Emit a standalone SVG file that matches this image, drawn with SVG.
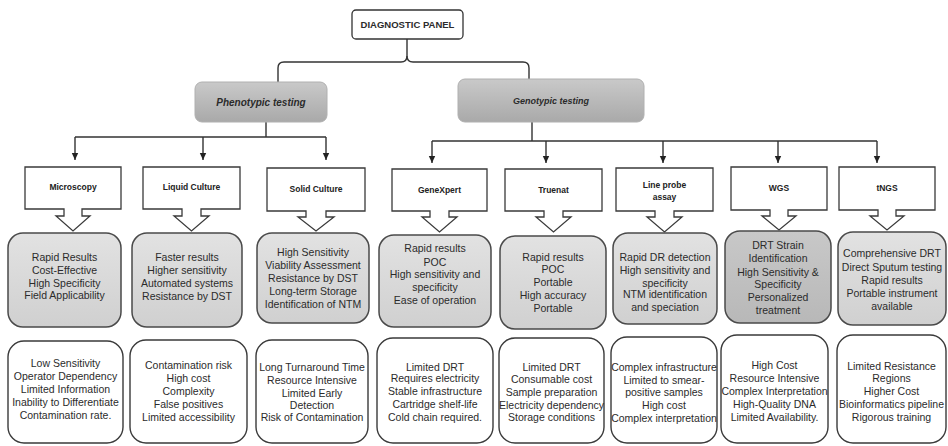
<svg xmlns="http://www.w3.org/2000/svg" width="948" height="446" viewBox="0 0 948 446">
<defs>
<linearGradient id="gcat" x1="0" y1="0" x2="0" y2="1"><stop offset="0" stop-color="#c9c9c9"/><stop offset="1" stop-color="#a9a9a9"/></linearGradient>
<linearGradient id="gpro" x1="0" y1="0" x2="0" y2="1"><stop offset="0" stop-color="#e2e2e2"/><stop offset="1" stop-color="#d0d0d0"/></linearGradient>
<linearGradient id="gwgs" x1="0" y1="0" x2="0" y2="1"><stop offset="0" stop-color="#c8c8c8"/><stop offset="1" stop-color="#b8b8b8"/></linearGradient>
<marker id="ah" markerWidth="8" markerHeight="8" refX="7" refY="4" orient="auto" markerUnits="userSpaceOnUse"><path d="M0,0.8 L7,4 L0,7.2 Z" fill="#222"/></marker>
<style>
.ln{fill:none;stroke:#333;stroke-width:1.4}
.hdr{fill:#fff;stroke:#3a3a3a;stroke-width:1.3}
.pro{fill:url(#gpro);stroke:#4a4a4a;stroke-width:1.5}
.wgs{fill:url(#gwgs);stroke:#4a4a4a;stroke-width:1.5}
.con{fill:#fff;stroke:#3a3a3a;stroke-width:1.4}
.cat{fill:url(#gcat);stroke:#b0b0b0;stroke-width:1}
.t{font-family:"Liberation Sans",Arial,sans-serif;font-size:10.5px;fill:#2b2b2b;text-anchor:middle}
.h{font-weight:bold;font-size:8.5px;fill:#222}
</style>
</defs>

<g id="connectors">
<path class="ln" d="M407,39 V56 Q407,62 401,62 H284 Q278,62 278,68 V82"/>
<path class="ln" d="M407,56 Q407,62 413,62 H523 Q529,62 529,68 V79"/>
<path class="ln" d="M266,122 V137 M75,137 H326"/>
<path class="ln" d="M75,137 V160" marker-end="url(#ah)"/>
<path class="ln" d="M203,137 V160" marker-end="url(#ah)"/>
<path class="ln" d="M326,137 V160" marker-end="url(#ah)"/>
<path class="ln" d="M532,122 V141 M432,141 H877"/>
<path class="ln" d="M432,141 V163" marker-end="url(#ah)"/>
<path class="ln" d="M546,141 V163" marker-end="url(#ah)"/>
<path class="ln" d="M663,141 V163" marker-end="url(#ah)"/>
<path class="ln" d="M778,141 V163" marker-end="url(#ah)"/>
<path class="ln" d="M877,141 V163" marker-end="url(#ah)"/>
</g>

<g id="diagnostic-panel">
<rect x="352" y="10" width="111" height="29" rx="4" fill="#fff" stroke="#333" stroke-width="1.3"/>
<text class="t" x="407.5" y="28" style="font-weight:bold;font-size:9.5px">DIAGNOSTIC PANEL</text>
</g>

<g id="phenotypic">
<rect class="cat" x="195" y="82" width="132" height="40" rx="7"/>
<text class="t" x="261" y="106" style="font-weight:bold;font-style:italic;font-size:10px">Phenotypic testing</text>
</g>
<g id="genotypic">
<rect class="cat" x="458" y="79" width="186" height="43" rx="7"/>
<text class="t" x="551" y="104" style="font-style:italic;font-weight:bold;font-size:9px">Genotypic testing</text>
</g>

<!-- Microscopy -->
<g id="microscopy">
<path class="hdr" d="M25,167 H121 V209 H82 V216 H90 L73,231 L56,216 H64 V209 H25 Z"/>
<text class="t h" x="73" y="190">Microscopy</text>
</g>
<g id="microscopy-pros">
<rect class="pro" x="8" y="233" width="113" height="94" rx="15"/>
<text class="t" x="64.5" y="261">Rapid Results</text>
<text class="t" x="64.5" y="274">Cost-Effective</text>
<text class="t" x="64.5" y="287">High Specificity</text>
<text class="t" x="64.5" y="299">Field Applicability</text>
</g>
<g id="microscopy-cons">
<rect class="con" x="8" y="341" width="115" height="102" rx="16"/>
<text class="t" x="65.5" y="367">Low Sensitivity</text>
<text class="t" x="65.5" y="380">Operator Dependency</text>
<text class="t" x="65.5" y="393">Limited Information</text>
<text class="t" x="65.5" y="406">Inability to Differentiate</text>
<text class="t" x="65.5" y="419">Contamination rate.</text>
</g>

<!-- Liquid Culture -->
<g id="liquid-culture">
<path class="hdr" d="M143,167 H240 V209 H201 V216 H209 L191.5,231 L174,216 H182 V209 H143 Z"/>
<text class="t h" x="191.5" y="190">Liquid Culture</text>
</g>
<g id="liquid-culture-pros">
<rect class="pro" x="132" y="233" width="110" height="94" rx="15"/>
<text class="t" x="187" y="261">Faster results</text>
<text class="t" x="187" y="274">Higher sensitivity</text>
<text class="t" x="187" y="287">Automated systems</text>
<text class="t" x="187" y="300">Resistance by DST</text>
</g>
<g id="liquid-culture-cons">
<rect class="con" x="130" y="340" width="117" height="103" rx="16"/>
<text class="t" x="188.5" y="369">Contamination risk</text>
<text class="t" x="188.5" y="382">High cost</text>
<text class="t" x="188.5" y="395">Complexity</text>
<text class="t" x="188.5" y="408">False positives</text>
<text class="t" x="188.5" y="421">Limited accessibility</text>
</g>

<!-- Solid Culture -->
<g id="solid-culture">
<path class="hdr" d="M267,168 H365 V211 H326 V217 H334 L316,231 L298,217 H306 V211 H267 Z"/>
<text class="t h" x="316" y="192">Solid Culture</text>
</g>
<g id="solid-culture-pros">
<rect class="pro" x="257" y="233" width="112" height="90" rx="15"/>
<text class="t" x="313" y="256">High Sensitivity</text>
<text class="t" x="313" y="269">Viability Assessment</text>
<text class="t" x="313" y="282">Resistance by DST</text>
<text class="t" x="313" y="295">Long-term Storage</text>
<text class="t" x="313" y="308">Identification of NTM</text>
</g>
<g id="solid-culture-cons">
<rect class="con" x="256" y="340" width="112" height="103" rx="16"/>
<text class="t" x="312" y="371">Long Turnaround Time</text>
<text class="t" x="312" y="384">Resource Intensive</text>
<text class="t" x="312" y="397">Limited Early</text>
<text class="t" x="312" y="409">Detection</text>
<text class="t" x="312" y="421">Risk of Contamination</text>
</g>

<!-- GeneXpert -->
<g id="genexpert">
<path class="hdr" d="M392,169 H487 V211 H449 V217 H457 L439.5,232 L422,217 H430 V211 H392 Z"/>
<text class="t h" x="439.5" y="193">GeneXpert</text>
</g>
<g id="genexpert-pros">
<rect class="pro" x="379" y="235" width="112" height="92" rx="15"/>
<text class="t" x="435" y="252">Rapid results</text>
<text class="t" x="435" y="266">POC</text>
<text class="t" x="435" y="278">High sensitivity and</text>
<text class="t" x="435" y="291">specificity</text>
<text class="t" x="435" y="304">Ease of operation</text>
</g>
<g id="genexpert-cons">
<rect class="con" x="377" y="338" width="116" height="105" rx="16"/>
<text class="t" x="435" y="371">Limited DRT</text>
<text class="t" x="435" y="382">Requires electricity</text>
<text class="t" x="435" y="395">Stable infrastructure</text>
<text class="t" x="435" y="408">Cartridge shelf-life</text>
<text class="t" x="435" y="421">Cold chain required.</text>
</g>

<!-- Truenat -->
<g id="truenat">
<path class="hdr" d="M505,169 H602 V211 H563 V217 H571 L553.5,232 L536,217 H544 V211 H505 Z"/>
<text class="t h" x="553.5" y="193">Truenat</text>
</g>
<g id="truenat-pros">
<rect class="pro" x="500" y="236" width="106" height="93" rx="15"/>
<text class="t" x="553" y="261">Rapid results</text>
<text class="t" x="553" y="273">POC</text>
<text class="t" x="553" y="286">Portable</text>
<text class="t" x="553" y="299">High accuracy</text>
<text class="t" x="553" y="312">Portable</text>
</g>
<g id="truenat-cons">
<rect class="con" x="499" y="338" width="105" height="105" rx="16"/>
<text class="t" x="551.5" y="371">Limited DRT</text>
<text class="t" x="551.5" y="383">Consumable cost</text>
<text class="t" x="551.5" y="396">Sample preparation</text>
<text class="t" x="551.5" y="409">Electricity dependency</text>
<text class="t" x="551.5" y="421">Storage conditions</text>
</g>

<!-- Line probe assay -->
<g id="line-probe-assay">
<path class="hdr" d="M616,168 H713 V211 H674 V217 H682 L664.5,232 L647,217 H655 V211 H616 Z"/>
<text class="t h" x="664.5" y="188">Line probe</text>
<text class="t h" x="664.5" y="200">assay</text>
</g>
<g id="line-probe-assay-pros">
<rect class="pro" x="613" y="233" width="104" height="91" rx="15"/>
<text class="t" x="665" y="261">Rapid DR detection</text>
<text class="t" x="665" y="274">High sensitivity and</text>
<text class="t" x="665" y="287">specificity</text>
<text class="t" x="665" y="298">NTM identification</text>
<text class="t" x="665" y="311">and speciation</text>
</g>
<g id="line-probe-assay-cons">
<rect class="con" x="611" y="337" width="106" height="106" rx="16"/>
<text class="t" x="664" y="371">Complex infrastructure</text>
<text class="t" x="664" y="384">Limited to smear-</text>
<text class="t" x="664" y="396">positive samples</text>
<text class="t" x="664" y="409">High cost</text>
<text class="t" x="664" y="422">Complex interpretation</text>
</g>

<!-- WGS -->
<g id="wgs">
<path class="hdr" d="M731,167 H827 V210 H788 V216 H796 L779,230 L762,216 H770 V210 H731 Z"/>
<text class="t h" x="779" y="191">WGS</text>
</g>
<g id="wgs-pros">
<rect class="wgs" x="725" y="231" width="106" height="92" rx="15"/>
<text class="t" x="778" y="249">DRT Strain</text>
<text class="t" x="778" y="262">Identification</text>
<text class="t" x="778" y="276">High Sensitivity &amp;</text>
<text class="t" x="778" y="288">Specificity</text>
<text class="t" x="778" y="301">Personalized</text>
<text class="t" x="778" y="314">treatment</text>
</g>
<g id="wgs-cons">
<rect class="con" x="721" y="335" width="107" height="108" rx="16"/>
<text class="t" x="774.5" y="369">High Cost</text>
<text class="t" x="774.5" y="382">Resource Intensive</text>
<text class="t" x="774.5" y="395">Complex Interpretation</text>
<text class="t" x="774.5" y="408">High-Quality DNA</text>
<text class="t" x="774.5" y="421">Limited Availability.</text>
</g>

<!-- tNGS -->
<g id="tngs">
<path class="hdr" d="M839,167 H935 V210 H896 V216 H904 L887,230 L870,216 H878 V210 H839 Z"/>
<text class="t h" x="887" y="191">tNGS</text>
</g>
<g id="tngs-pros">
<rect class="pro" x="838" y="232" width="108" height="93" rx="15"/>
<text class="t" x="892" y="257">Comprehensive DRT</text>
<text class="t" x="892" y="271">Direct Sputum testing</text>
<text class="t" x="892" y="284">Rapid results</text>
<text class="t" x="892" y="297">Portable instrument</text>
<text class="t" x="892" y="310">available</text>
</g>
<g id="tngs-cons">
<rect class="con" x="837" y="335" width="109" height="108" rx="16"/>
<text class="t" x="891.5" y="370">Limited Resistance</text>
<text class="t" x="891.5" y="382">Regions</text>
<text class="t" x="891.5" y="395">Higher Cost</text>
<text class="t" x="891.5" y="408">Bioinformatics pipeline</text>
<text class="t" x="891.5" y="421">Rigorous training</text>
</g>
</svg>
